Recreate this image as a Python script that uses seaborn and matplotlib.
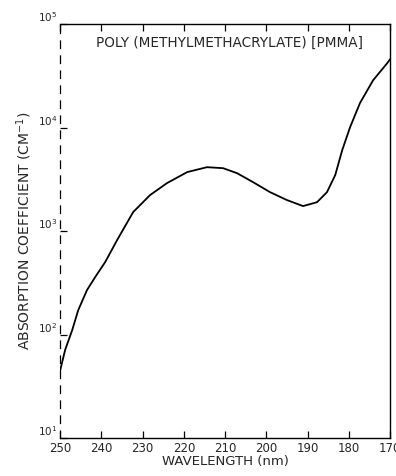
import matplotlib
matplotlib.use("Agg")
import matplotlib.pyplot as plt
import seaborn as sns
import pandas as pd
import numpy as np
from matplotlib.ticker import FixedLocator, NullLocator

# Veriler
wavelength = [250, 248.8, 247.1, 245.6, 243.5, 241.5, 239.1, 236.2, 232.3,
              228.2, 224.1, 219.2, 214.4, 210.5, 207.1, 203.2, 199.1, 195.0, 191.1,
              187.7, 185.3, 183.3, 181.6, 179.7, 177.3, 174.1, 170.7, 170.0]
absorption = [45, 71, 110, 173, 269, 360, 501, 818, 1528,
              2230, 2910, 3720, 4150, 4060, 3630, 2970, 2380, 1995, 1745,
              1905, 2380, 3480, 6070, 10100, 17300, 28800, 42000, 45900]
x_ticks = [250, 240, 230, 220, 210, 200, 190, 180, 170]
y_ticks = [1e1, 1e2, 1e3, 1e4, 1e5]
y_tick_labels = ['$10^1$', '$10^2$', '$10^3$', '$10^4$', '$10^5$']

df = pd.DataFrame({'wavelength': wavelength, 'absorption': absorption})

sns.set_style('ticks')
plt.rcParams['font.family'] = ['DejaVu Sans']

fig = plt.figure(figsize=(3.96, 4.76), dpi=100)
ax = fig.add_axes([0.152, 0.08, 0.833, 0.869])

sns.lineplot(data=df, x='wavelength', y='absorption', ax=ax, color='black',
             linewidth=1.3, sort=False)

ax.set_yscale('log')
ax.set_xlim(250, 170)
ax.set_ylim(1e1, 1e5)

ax.xaxis.set_major_locator(FixedLocator(x_ticks))
ax.set_xticklabels([str(t) for t in x_ticks], fontsize=8.5)
ax.yaxis.set_major_locator(FixedLocator(y_ticks))
ax.yaxis.set_minor_locator(NullLocator())
ax.set_yticklabels(y_tick_labels, fontsize=7.5)
plt.setp(ax.get_yticklabels(), va='bottom')

ax.tick_params(axis='both', direction='in', length=5, width=0.9, color='black',
               top=True, right=False, pad=2)
ax.tick_params(axis='x', pad=3)

for side in ['top', 'bottom', 'right']:
    ax.spines[side].set_color('black')
    ax.spines[side].set_linewidth(1.0)
ax.spines['left'].set_color('black')
ax.spines['left'].set_linewidth(0.9)
ax.spines['left'].set_linestyle((0, (6, 6)))

ax.set_xlabel('WAVELENGTH (nm)', fontsize=9.5, labelpad=0)
ax.set_ylabel('ABSORPTION COEFFICIENT (CM$^{-1}$)', fontsize=10, labelpad=3)

ax.text(0.11, 0.955, 'POLY (METHYLMETHACRYLATE) [PMMA]', transform=ax.transAxes,
        fontsize=9.8, ha='left', va='center')

fig.savefig('out.png', dpi=100, facecolor='white')
